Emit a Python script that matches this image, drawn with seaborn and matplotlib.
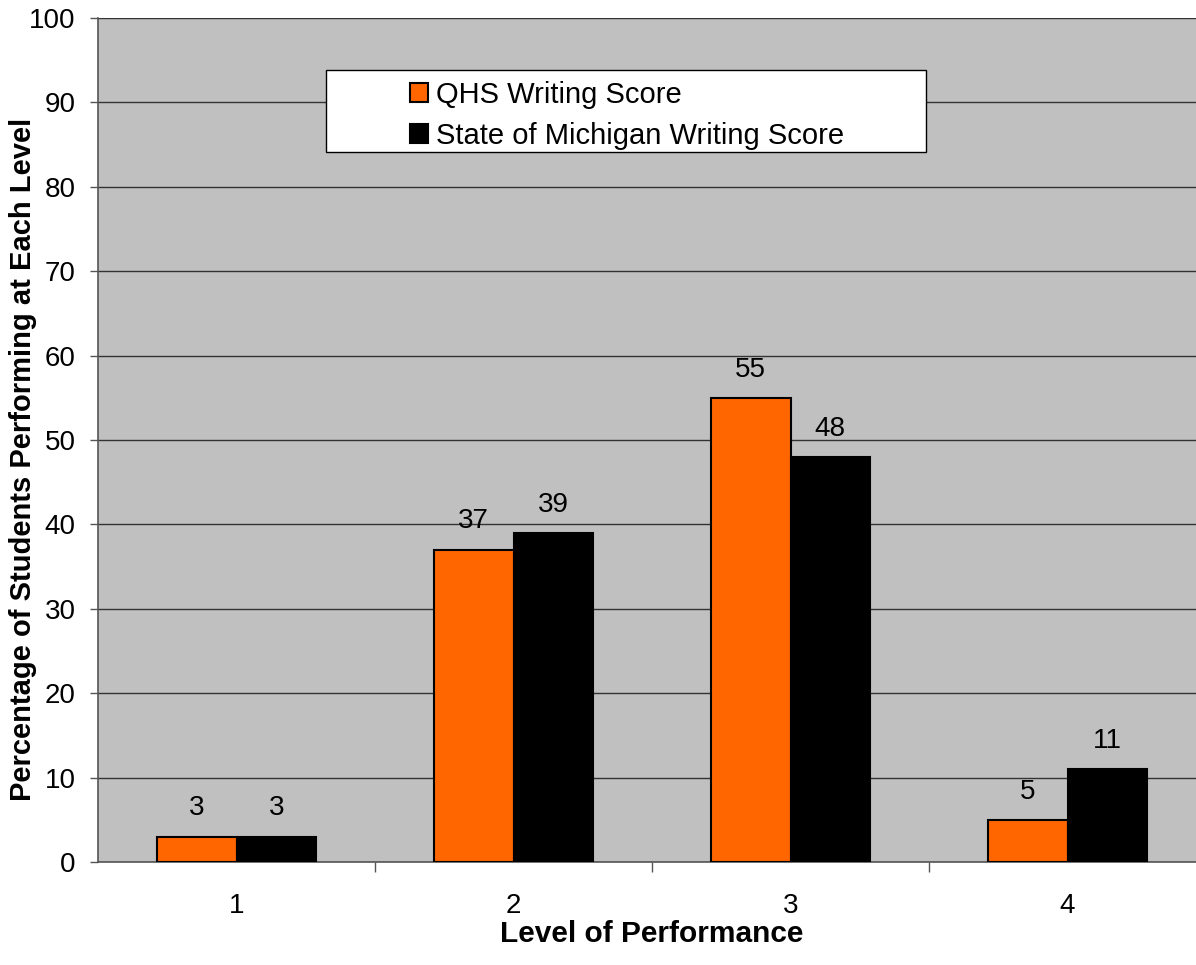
import matplotlib
matplotlib.use("Agg")
import matplotlib.pyplot as plt
from matplotlib.patches import Rectangle
import seaborn as sns
import pandas as pd

levels = ["1", "2", "3", "4"]
qhs_scores = [3, 37, 55, 5]
state_scores = [3, 39, 48, 11]
series_names = ["QHS Writing Score", "State of Michigan Writing Score"]

df = pd.DataFrame({
    "Level": levels * 2,
    "Score": qhs_scores + state_scores,
    "Series": [series_names[0]] * 4 + [series_names[1]] * 4,
})

sns.set_theme(style="white")
plt.rcParams["font.family"] = ["Liberation Sans", "DejaVu Sans"]
plt.rcParams["text.color"] = "black"
plt.rcParams["xtick.color"] = "black"
plt.rcParams["ytick.color"] = "black"
plt.rcParams["axes.labelcolor"] = "black"

fig = plt.figure(figsize=(11.96, 9.65), dpi=100)
# plot area runs a little past the right edge, like the original export
ax = fig.add_axes([98 / 1196, 103 / 965, 1108 / 1196, 844 / 965])
ax.set_facecolor("#C0C0C0")

sns.barplot(data=df, x="Level", y="Score", hue="Series",
            palette=["#FF6600", "#000000"], width=0.574,
            edgecolor="black", linewidth=1.5, saturation=1,
            ax=ax, legend=True, zorder=3)

for c in ax.containers:
    ax.bar_label(c, padding=11, fontsize=20, zorder=4)

ax.set_ylim(0, 100)
ax.set_xlim(-0.5, 3.5)
ax.set_yticks(range(0, 101, 10))
ax.yaxis.grid(True, color="#333333", linewidth=1, zorder=0)
ax.set_axisbelow(True)

# x ticks sit between the categories, labels in the middle
ax.set_xticks([0.5, 1.5, 2.5, 3.5], minor=False)
ax.set_xticklabels([])
ax.set_xticks([0, 1, 2, 3], minor=True)
ax.set_xticklabels(levels, minor=True)
ax.tick_params(axis="x", which="major", direction="out", length=7, width=1,
               color="#555555", bottom=True)
ax.tick_params(axis="x", which="minor", length=0, pad=22, labelsize=20)
ax.tick_params(axis="y", direction="out", length=6, width=1, color="#555555",
               left=True, labelsize=20, pad=10)

for s in ["top", "right"]:
    ax.spines[s].set_visible(False)
for s in ["left", "bottom"]:
    ax.spines[s].set_color("#555555")
    ax.spines[s].set_linewidth(1.2)

ax.set_xlabel("Level of Performance", fontsize=21.5, fontweight="bold", labelpad=1)
ax.set_ylabel("Percentage of Students Performing at Each Level", fontsize=21,
              fontweight="bold")
ax.yaxis.set_label_coords((37 - 98) / 1108, (862 - 459) / 844)

# legend box
box = Rectangle((228 / 1108, (862 - 152) / 844), 600 / 1108, 82 / 844,
                transform=ax.transAxes, facecolor="white", edgecolor="black",
                linewidth=1, zorder=5)
ax.add_patch(box)
handles, labels = ax.get_legend_handles_labels()
ax.legend(handles, labels, loc="upper left",
          bbox_to_anchor=((410 - 98) / 1108, (862 - 81) / 844),
          frameon=False, fontsize=21, handlelength=0.62, handleheight=0.62,
          handletextpad=0.28, labelspacing=0.45, borderpad=0, borderaxespad=0)
ax.get_legend().set_zorder(6)

fig.savefig("out.png", dpi=100)
